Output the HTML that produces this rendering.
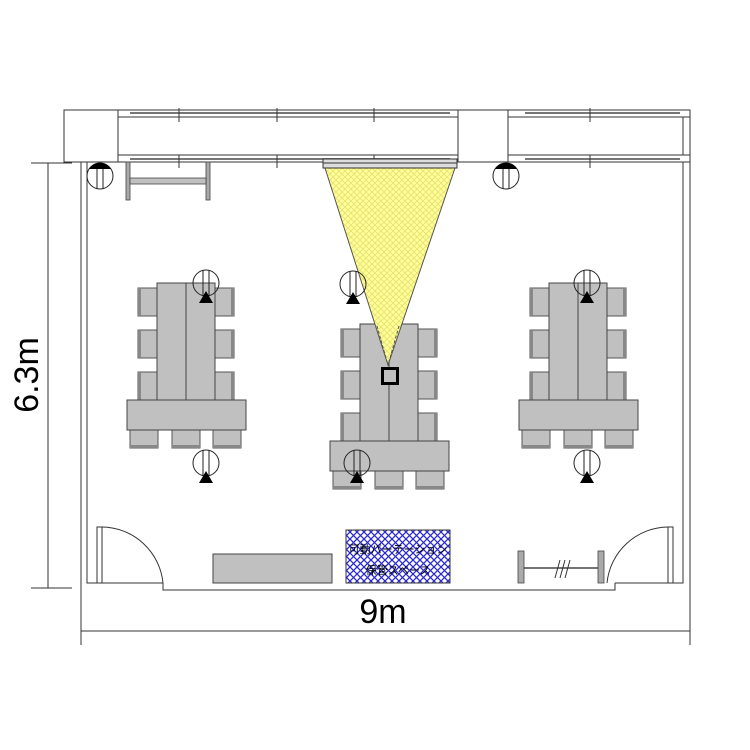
<!DOCTYPE html>
<html><head><meta charset="utf-8"><style>
html,body{margin:0;padding:0;background:#fff;}
svg{display:block;}
</style></head><body>
<svg width="750" height="750" viewBox="0 0 750 750" xmlns="http://www.w3.org/2000/svg">
<defs>
<pattern id="yh" width="6" height="6" patternUnits="userSpaceOnUse">
<rect width="6" height="6" fill="#ffff99"/>
<path d="M0,0L6,6M6,0L0,6" stroke="#e6e070" stroke-width="0.8"/>
</pattern>
<pattern id="bh" width="7" height="7" patternUnits="userSpaceOnUse">
<rect width="7" height="7" fill="#fff"/>
<path d="M0,0L7,7M7,0L0,7" stroke="#2a2ad0" stroke-width="1.3"/>
</pattern>
<g id="chL"><rect x="0" y="0" width="19" height="28" fill="#c0c0c0" stroke="#555" stroke-width="1"/><rect x="0" y="0" width="3" height="28" fill="#888"/></g>
<g id="chR"><rect x="0" y="0" width="19" height="28" fill="#c0c0c0" stroke="#555" stroke-width="1"/><rect x="16" y="0" width="3" height="28" fill="#888"/></g>
<g id="chB"><rect x="0" y="0" width="28" height="18" fill="#c0c0c0" stroke="#555" stroke-width="1"/><rect x="0" y="15" width="28" height="3" fill="#888"/></g>
<g id="grp">
<use href="#chL" x="11" y="5"/><use href="#chL" x="11" y="47"/><use href="#chL" x="11" y="89"/>
<use href="#chR" x="88" y="5"/><use href="#chR" x="88" y="47"/><use href="#chR" x="88" y="89"/>
<use href="#chB" x="3" y="147"/><use href="#chB" x="45" y="147"/><use href="#chB" x="86" y="147"/>
<rect x="30" y="0" width="58" height="117" fill="#c0c0c0" stroke="#444" stroke-width="1"/>
<line x1="59" y1="0" x2="59" y2="117" stroke="#444"/>
<rect x="0" y="117" width="119" height="30" fill="#c0c0c0" stroke="#444" stroke-width="1"/>
</g>
<g id="mic">
<circle cx="0" cy="0" r="13" fill="none" stroke="#222" stroke-width="1"/>
<line x1="-3" y1="-13" x2="-3" y2="13" stroke="#222"/><line x1="3" y1="-13" x2="3" y2="13" stroke="#222"/>
<polygon points="0,8 -7,20 7,20" fill="#000"/>
</g>
<g id="lamp">
<circle cx="0" cy="0" r="13" fill="#fff" stroke="#222" stroke-width="1"/>
<path d="M-11,-7 A13,13 0 0 1 11,-7 Z" fill="#000"/>
<line x1="-3" y1="-7" x2="-3" y2="13" stroke="#222"/><line x1="3" y1="-7" x2="3" y2="13" stroke="#222"/>
</g>
</defs>

<!-- top wall -->
<rect x="64" y="110" width="54" height="52" fill="#fff" stroke="#333"/>
<path d="M118,110 H458 V117 H118 Z M118,155 H458 V162 H118 Z" fill="#fff" stroke="#333"/>
<path d="M508,110 H690 V117 H508 Z M508,155 H690 V162 H508 Z" fill="#fff" stroke="#333"/>
<rect x="118" y="117" width="340" height="38" fill="#fff" stroke="#333"/>
<rect x="508" y="117" width="175" height="38" fill="#fff" stroke="#333"/>
<path d="M458,110 H508 M458,162 H508" stroke="#333"/>
<g stroke="#777" stroke-width="2">
<line x1="130" y1="113" x2="450" y2="113"/><line x1="130" y1="159" x2="450" y2="159"/>
<line x1="525" y1="113" x2="680" y2="113"/><line x1="525" y1="159" x2="680" y2="159"/>
</g>
<g stroke="#333" stroke-width="1">
<line x1="179" y1="108" x2="179" y2="122"/><line x1="277" y1="108" x2="277" y2="122"/><line x1="374" y1="108" x2="374" y2="122"/>
<line x1="179" y1="155" x2="179" y2="168"/><line x1="277" y1="155" x2="277" y2="168"/><line x1="374" y1="155" x2="374" y2="168"/>
<line x1="590" y1="108" x2="590" y2="122"/><line x1="590" y1="155" x2="590" y2="168"/>
</g>

<!-- side walls -->
<path d="M81,162 V590 M87,162 V583 H163" fill="none" stroke="#333"/>
<path d="M690,110 V590 M683,162 V583 H615" fill="none" stroke="#333"/>
<path d="M163,583 V590 H615 V583" fill="none" stroke="#333"/>
<!-- doors -->
<path d="M97,583 V527 H102 V583 Z" fill="#fff" stroke="#333"/>
<path d="M102,527 A62,62 0 0 1 163,583" fill="none" stroke="#333"/>
<path d="M668,583 V527 H673 V583 Z" fill="#fff" stroke="#333"/>
<path d="M668,527 A62,62 0 0 0 607,583" fill="none" stroke="#333"/>

<!-- dimension left -->
<line x1="48" y1="163" x2="48" y2="588" stroke="#333"/>
<line x1="31" y1="163" x2="72" y2="163" stroke="#333"/>
<line x1="31" y1="588" x2="72" y2="588" stroke="#333"/>
<text x="0" y="0" transform="translate(38,375) rotate(-90)" text-anchor="middle" font-family="Liberation Sans, sans-serif" font-size="34" fill="#000">6.3m</text>
<!-- dimension bottom -->
<line x1="81" y1="590" x2="81" y2="645" stroke="#333"/>
<line x1="690" y1="590" x2="690" y2="645" stroke="#333"/>
<line x1="81" y1="631" x2="690" y2="631" stroke="#333"/>
<text x="383" y="623" text-anchor="middle" font-family="Liberation Sans, sans-serif" font-size="34" fill="#000">9m</text>

<!-- whiteboard -->
<rect x="126" y="162" width="4" height="38" fill="#aaa" stroke="#444" stroke-width="0.8"/>
<rect x="206" y="162" width="4" height="38" fill="#aaa" stroke="#444" stroke-width="0.8"/>
<rect x="130" y="178" width="76" height="6" fill="#c0c0c0" stroke="#444" stroke-width="0.8"/>

<!-- lamps -->
<use href="#lamp" x="100" y="176"/>
<use href="#lamp" x="506" y="176"/>

<!-- tables -->
<use href="#grp" x="127" y="283"/>
<use href="#grp" x="330" y="324"/>
<use href="#grp" x="519" y="283"/>

<!-- projector cone -->
<polygon points="325,168 455,168 388,365" fill="url(#yh)" stroke="#555" stroke-width="1"/>
<rect x="323" y="159" width="134" height="9" fill="#ddd" stroke="#333"/>
<line x1="323" y1="163" x2="457" y2="163" stroke="#333"/>
<line x1="377" y1="326" x2="388" y2="365" stroke="#555" stroke-dasharray="3,2"/>
<line x1="399" y1="326" x2="388" y2="365" stroke="#555" stroke-dasharray="3,2"/>
<rect x="381" y="367" width="18" height="18" fill="#000"/>
<rect x="384" y="370" width="12" height="12" fill="#c0c0c0"/>

<!-- mics -->
<use href="#mic" x="206" y="283"/>
<use href="#mic" x="206" y="463"/>
<use href="#mic" x="353" y="284"/>
<use href="#mic" x="357" y="463"/>
<use href="#mic" x="587" y="283"/>
<use href="#mic" x="587" y="463"/>

<!-- bottom furniture -->
<rect x="213" y="554" width="119" height="29" fill="#c0c0c0" stroke="#444"/>
<rect x="346" y="530" width="104" height="53" fill="url(#bh)" stroke="#333"/>
<text x="398" y="553" text-anchor="middle" font-family="Liberation Sans, Noto Sans CJK JP, sans-serif" font-size="11" fill="#000">可動パーテーション</text>
<text x="398" y="574" text-anchor="middle" font-family="Liberation Sans, Noto Sans CJK JP, sans-serif" font-size="11" fill="#000">保管スペース</text>
<rect x="518" y="551" width="6" height="32" fill="#aaa" stroke="#444" stroke-width="0.8"/>
<rect x="598" y="551" width="6" height="32" fill="#aaa" stroke="#444" stroke-width="0.8"/>
<line x1="524" y1="568" x2="598" y2="568" stroke="#222" stroke-width="1.2"/>
<path d="M555,578 L560,560 M560,578 L565,560 M565,578 L570,560" stroke="#333"/>
</svg>
</body></html>
